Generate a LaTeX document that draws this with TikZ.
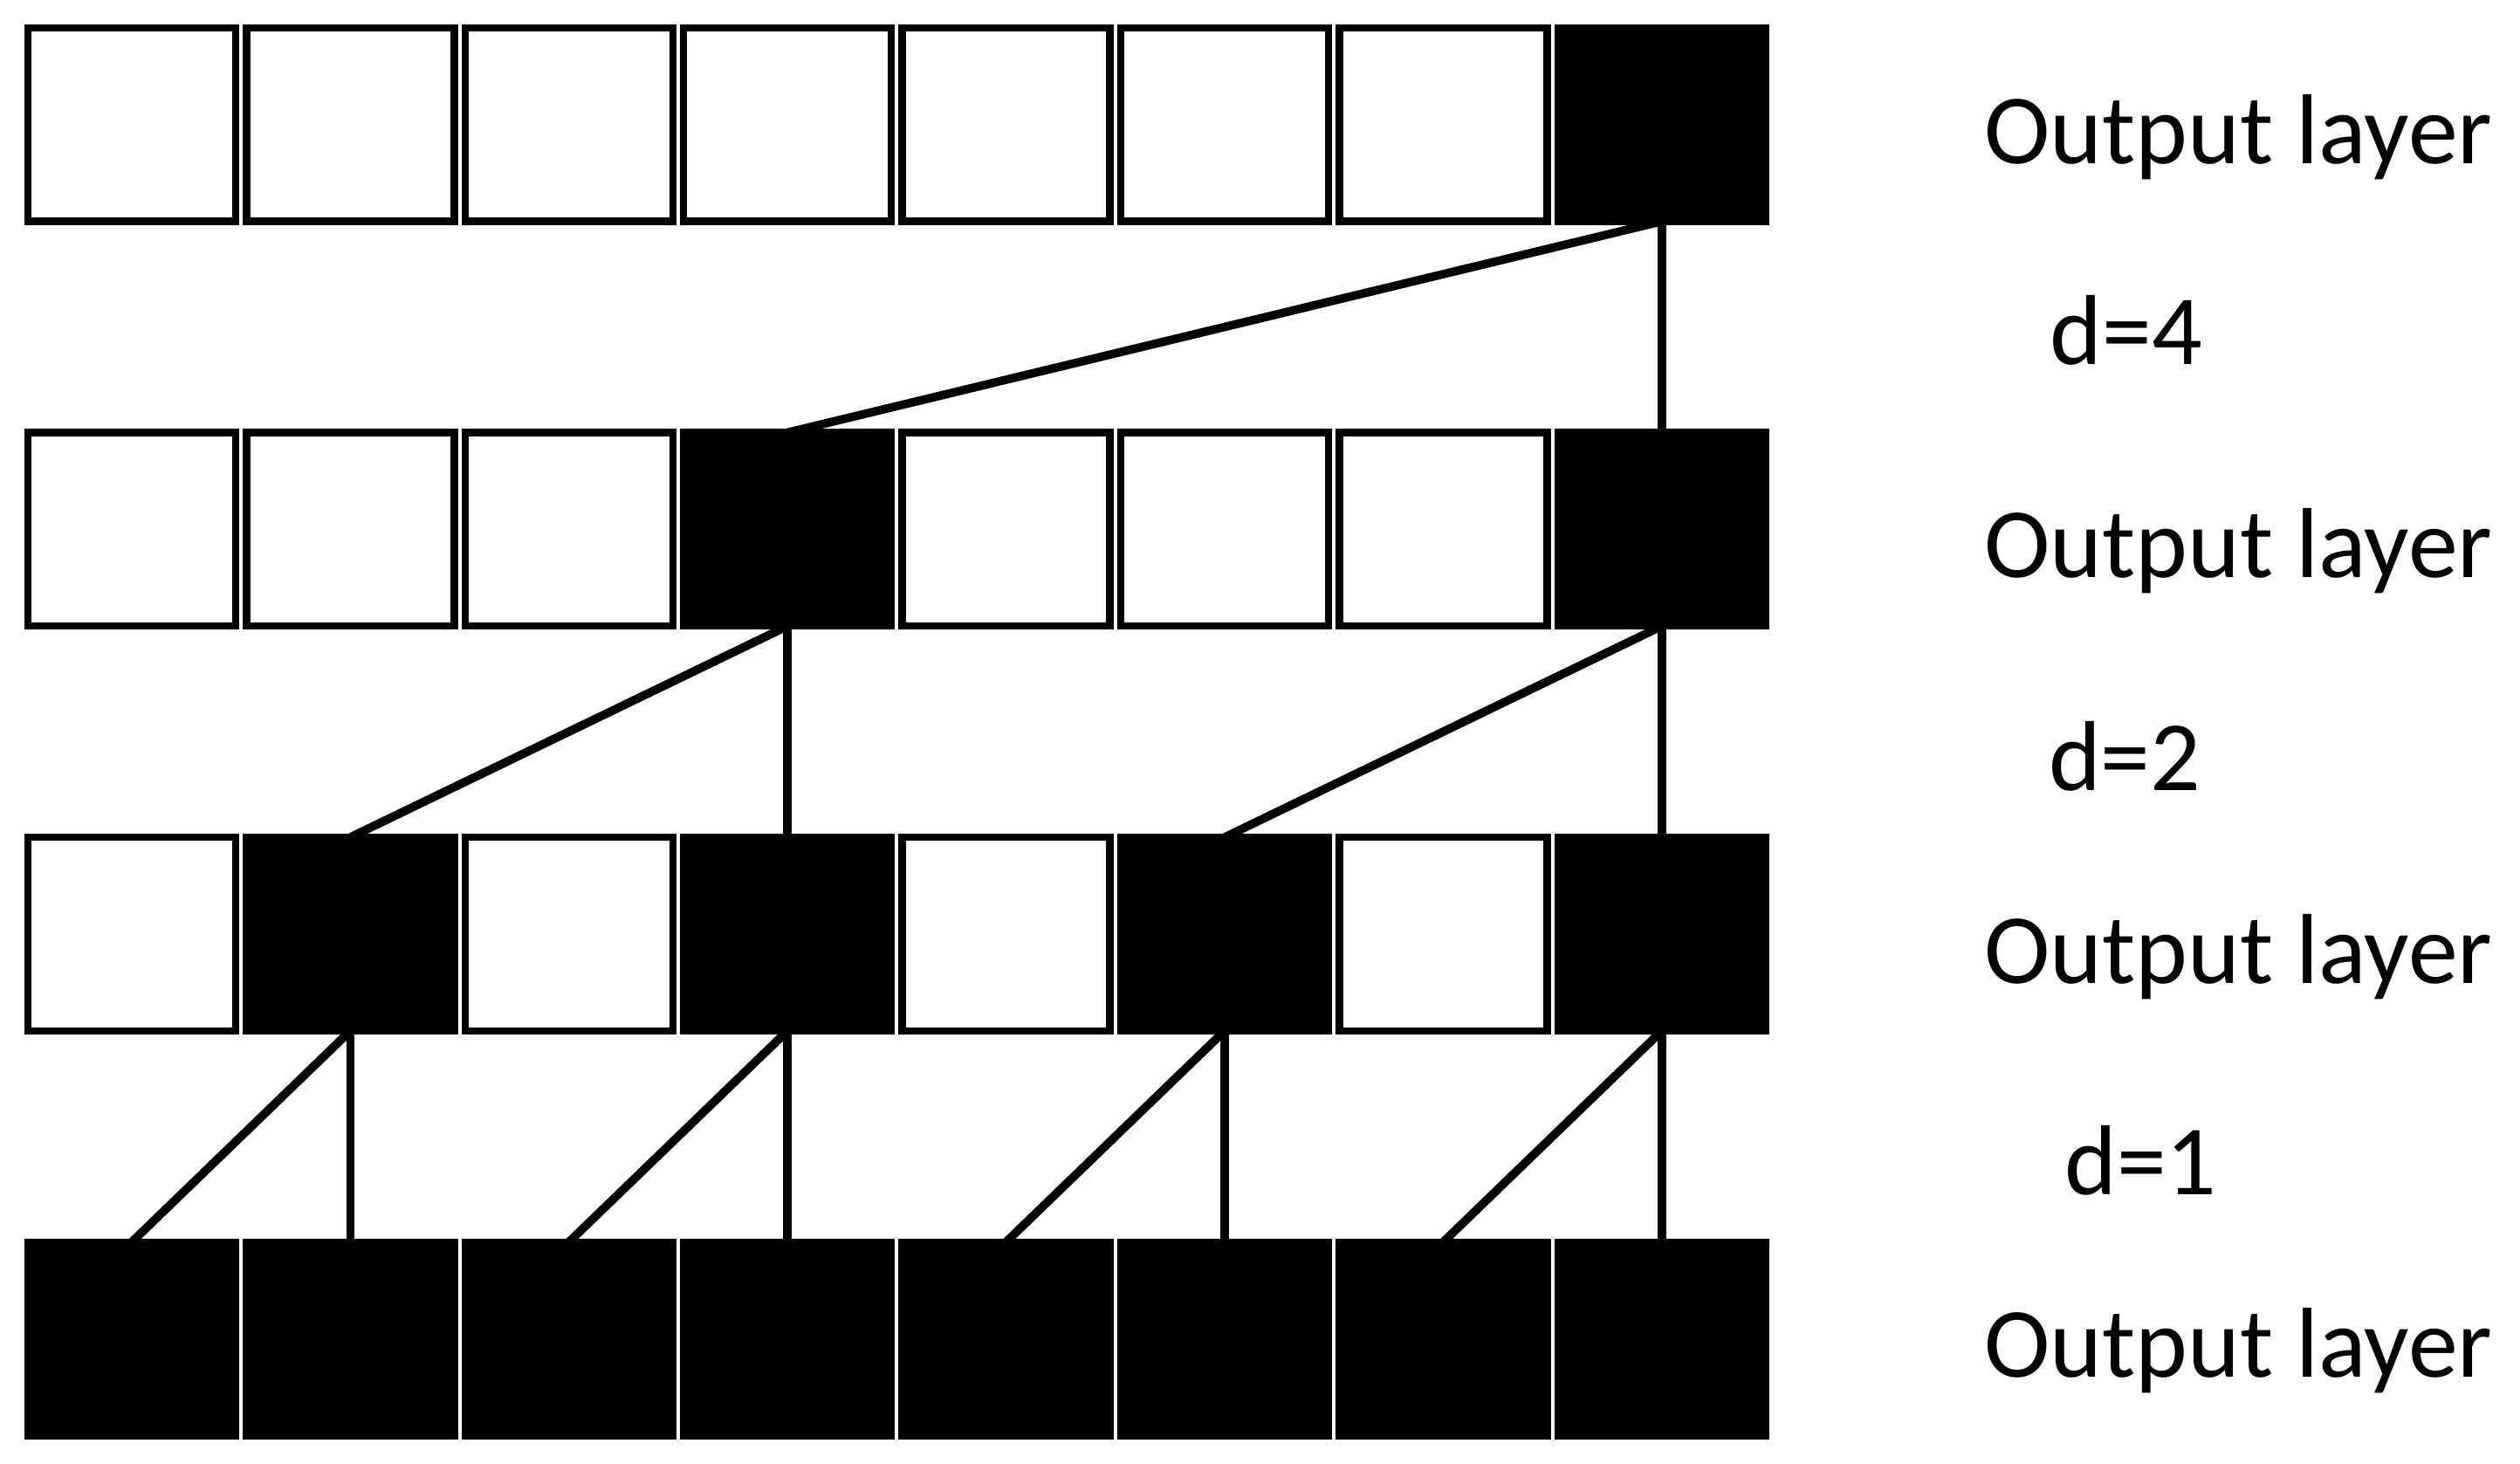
\documentclass[tikz,border=0pt]{standalone}
\usepackage{fontspec}
\setmainfont{Carlito}

\begin{document}
\begin{tikzpicture}[
    cell/.style = {draw, line width=1.3pt, minimum width=1.293cm, minimum height=1.204cm, inner sep=0pt, outer sep=0pt},
    full/.style = {cell, fill=black},
    link/.style = {line width=1.5pt},
    lbl/.style = {anchor=base west, inner sep=0pt, font=\fontsize{17.6}{20}\selectfont}]
    \useasboundingbox (0,0) rectangle (15.68,-9.108);
    % rows from top to bottom, every \k-th cell is filled
    \foreach \r/\k in {1/8, 2/4, 3/2, 4/1}{
        \foreach \c in {1,...,8}{
            \pgfmathtruncatemacro{\m}{mod(\c,\k)}
            \ifnum\m=0
                \node[full] (r\r c\c) at (-0.54+1.36*\c, 1.743-2.518*\r) {};
            \else
                \node[cell] (r\r c\c) at (-0.54+1.36*\c, 1.743-2.518*\r) {};
            \fi
        }
    }
    % each filled cell feeds the cell below and the one \c to its left
    \foreach \a/\b/\c in {1/8/4, 2/4/2, 2/8/6, 3/2/1, 3/4/3, 3/6/5, 3/8/7}{
        \pgfmathtruncatemacro{\n}{\a+1}
        \draw[link] (r\a c\b.south) -- (r\n c\b.north);
        \draw[link] (r\a c\b.south) -- (r\n c\c.north);
    }
    \foreach \r/\y in {1/1.02, 2/3.59, 3/6.12, 4/8.57}
        \node[lbl] (out\r) at (12.34,-\y) {Output layer};
    \node[lbl] (d4) at (12.75,-2.27) {d=4};
    \node[lbl] (d2) at (12.74,-4.92) {d=2};
    \node[lbl] (d1) at (12.84,-7.43) {d=1};
\end{tikzpicture}
\end{document}
